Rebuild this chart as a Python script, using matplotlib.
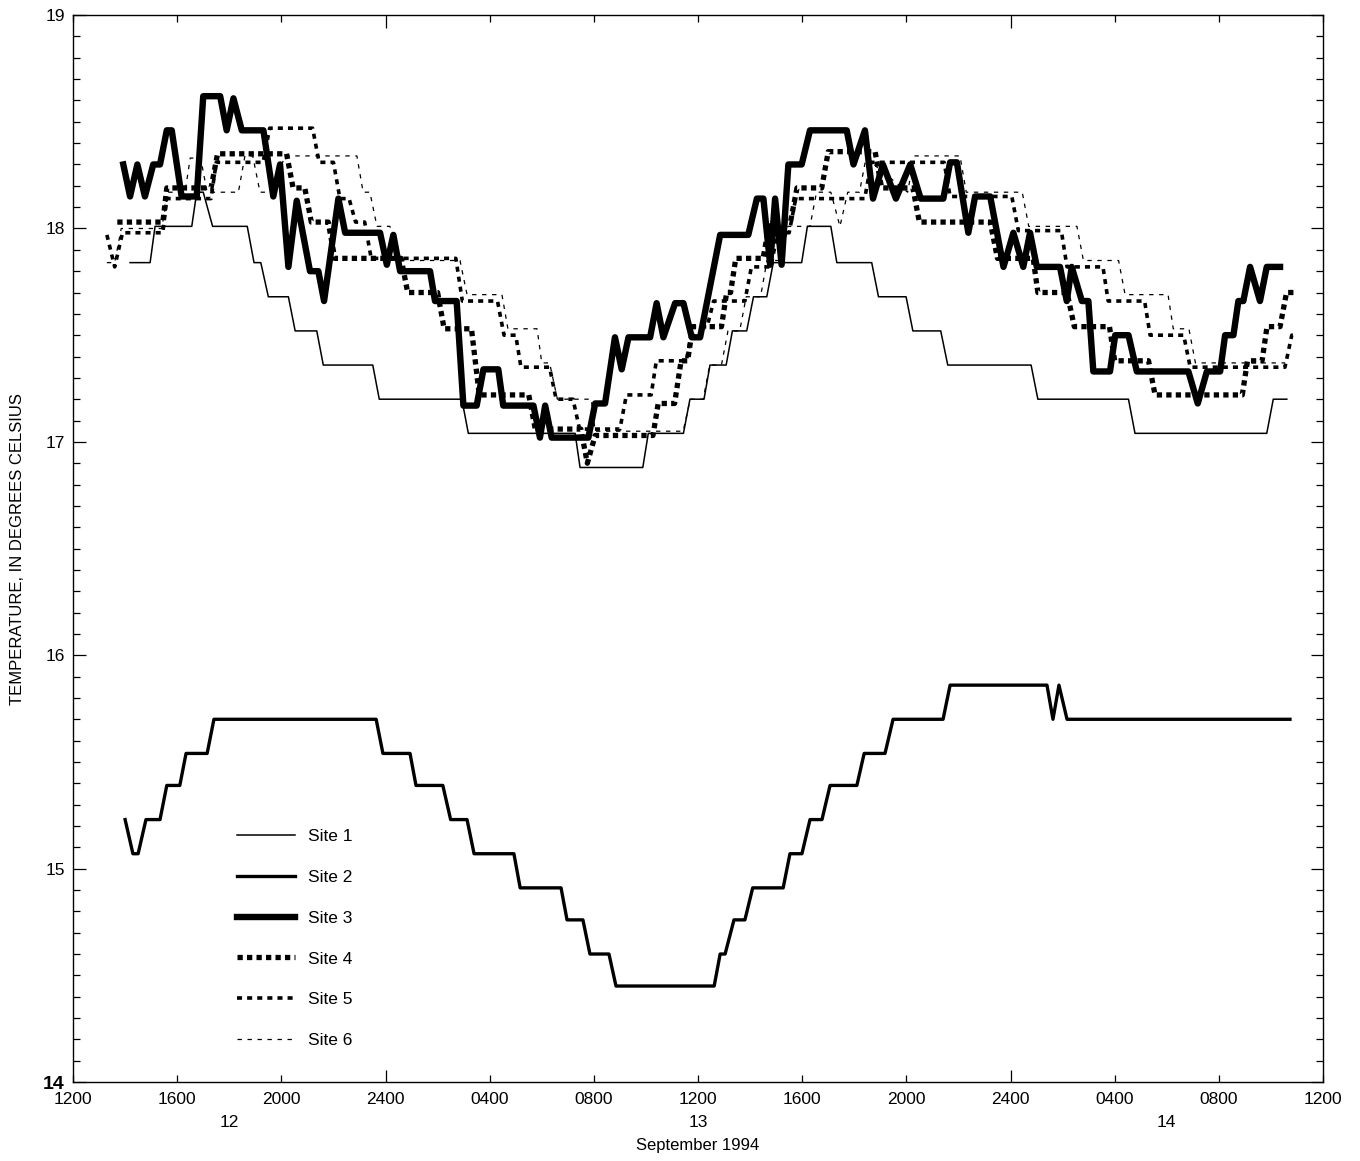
import matplotlib
matplotlib.use("Agg")
import matplotlib.pyplot as plt

plt.rcParams['font.family'] = ['Liberation Sans', 'DejaVu Sans']

# hours after 1200, 12 September 1994
site1_t = [2.19, 2.96, 3.15, 4.56, 4.75, 5.0, 5.36, 6.69, 6.95, 7.21, 7.5, 8.27, 8.53, 9.36, 9.61, 11.51,
           11.76, 14.93, 15.18, 19.28, 19.47, 21.88, 22.09, 23.44, 23.69, 24.23, 24.46, 25.08, 25.32, 25.87,
           26.13, 26.64, 26.89, 27.98, 28.2, 29.1, 29.33, 30.67, 30.93, 31.99, 32.25, 33.32, 33.59, 36.79,
           37.05, 40.53, 40.78, 45.84, 46.09, 46.61]
site1_v = [17.84, 17.84, 18.01, 18.01, 18.17, 18.17, 18.01, 18.01, 17.84, 17.84, 17.68, 17.68, 17.52, 17.52,
           17.36, 17.36, 17.20, 17.20, 17.04, 17.04, 16.88, 16.88, 17.04, 17.04, 17.20, 17.20, 17.36, 17.36,
           17.52, 17.52, 17.68, 17.68, 17.84, 17.84, 18.01, 18.01, 17.84, 17.84, 17.68, 17.68, 17.52, 17.52,
           17.36, 17.36, 17.20, 17.20, 17.04, 17.04, 17.20, 17.20]

site2_t = [2.0, 2.3, 2.5, 2.8, 3.34, 3.6, 4.1, 4.34, 5.15, 5.41, 11.64, 11.9, 12.94, 13.17, 14.2, 14.5,
           15.13, 15.4, 16.93, 17.17, 18.74, 18.97, 19.58, 19.85, 20.58, 20.85, 24.62, 24.85, 25.04, 25.38,
           25.8, 26.1, 27.27, 27.53, 27.99, 28.3, 28.76, 29.07, 30.1, 30.38, 31.18, 31.49, 33.41, 33.68,
           37.4, 37.63, 37.86, 38.17, 46.73]
site2_v = [15.23, 15.07, 15.07, 15.23, 15.23, 15.39, 15.39, 15.54, 15.54, 15.70, 15.70, 15.54, 15.54, 15.39,
           15.39, 15.23, 15.23, 15.07, 15.07, 14.91, 14.91, 14.76, 14.76, 14.60, 14.60, 14.45, 14.45, 14.60,
           14.60, 14.76, 14.76, 14.91, 14.91, 15.07, 15.07, 15.23, 15.23, 15.39, 15.39, 15.54, 15.54, 15.70,
           15.70, 15.86, 15.86, 15.70, 15.86, 15.70, 15.70]

site3_t = [1.93, 2.19, 2.47, 2.76, 3.08, 3.34, 3.6, 3.79, 4.17, 4.75, 5.0, 5.65, 5.9, 6.16, 6.48, 7.31,
           7.69, 7.95, 8.27, 8.59, 9.1, 9.42, 9.64, 10.19, 10.45, 11.79, 12.05, 12.3, 12.56, 13.71, 13.9,
           14.73, 14.99, 15.5, 15.76, 16.33, 16.52, 17.68, 17.93, 18.13, 18.38, 19.79, 20.05, 20.43, 20.81,
           21.07, 21.33, 22.16, 22.41, 22.67, 23.12, 23.44, 23.76, 24.08, 24.85, 25.93, 26.26, 26.51, 26.77,
           26.96, 27.21, 27.47, 27.98, 28.3, 29.71, 29.97, 30.41, 30.72, 31.1, 31.6, 32.15, 32.55, 33.42,
           33.68, 33.94, 34.38, 34.64, 35.22, 35.73, 36.11, 36.49, 36.75, 37.01, 37.9, 38.16, 38.35, 38.74,
           38.99, 39.18, 39.82, 40.02, 40.53, 40.85, 42.83, 43.19, 43.54, 44.05, 44.24, 44.56, 44.75, 44.94,
           45.2, 45.58, 45.84, 46.35]
site3_v = [18.30, 18.15, 18.30, 18.15, 18.30, 18.30, 18.46, 18.46, 18.15, 18.15, 18.62, 18.62, 18.46, 18.61,
           18.46, 18.46, 18.15, 18.30, 17.82, 18.13, 17.80, 17.80, 17.66, 18.14, 17.98, 17.98, 17.83, 17.97,
           17.80, 17.80, 17.66, 17.66, 17.17, 17.17, 17.34, 17.34, 17.17, 17.17, 17.02, 17.17, 17.02, 17.02,
           17.18, 17.18, 17.49, 17.34, 17.49, 17.49, 17.65, 17.49, 17.65, 17.65, 17.49, 17.49, 17.97, 17.97,
           18.14, 18.14, 17.83, 18.14, 17.83, 18.30, 18.30, 18.46, 18.46, 18.30, 18.46, 18.14, 18.30, 18.14,
           18.30, 18.14, 18.14, 18.31, 18.31, 17.98, 18.15, 18.15, 17.82, 17.98, 17.82, 17.98, 17.82, 17.82,
           17.66, 17.82, 17.66, 17.66, 17.33, 17.33, 17.50, 17.50, 17.33, 17.33, 17.18, 17.33, 17.33, 17.50,
           17.50, 17.66, 17.66, 17.82, 17.66, 17.82, 17.82]

site4_t = [1.7, 3.45, 3.6, 5.3, 5.55, 8.2, 8.45, 8.9, 9.15, 9.8, 10.05, 12.6, 12.85, 14.0, 14.25, 15.3,
           15.6, 17.5, 17.75, 19.5, 19.75, 20.05, 22.27, 22.47, 23.1, 23.35, 23.6, 23.8, 24.9, 25.1, 25.25,
           25.45, 26.5, 26.75, 27.55, 27.8, 28.75, 29.0, 30.8, 31.05, 32.25, 32.5, 35.22, 35.5, 36.87,
           37.05, 38.17, 38.45, 39.8, 40.0, 41.3, 41.55, 44.9, 45.1, 45.66, 45.85, 46.35, 46.6, 46.93]
site4_v = [18.03, 18.03, 18.19, 18.19, 18.35, 18.35, 18.19, 18.19, 18.03, 18.03, 17.86, 17.86, 17.70, 17.70,
           17.53, 17.53, 17.22, 17.22, 17.06, 17.06, 16.90, 17.03, 17.03, 17.18, 17.18, 17.38, 17.38, 17.54,
           17.54, 17.70, 17.70, 17.86, 17.86, 18.03, 18.03, 18.19, 18.19, 18.36, 18.36, 18.19, 18.19, 18.03,
           18.03, 17.86, 17.86, 17.70, 17.70, 17.54, 17.54, 17.38, 17.38, 17.22, 17.22, 17.38, 17.38, 17.54,
           17.54, 17.70, 17.70]

site5_t = [1.3, 1.6, 1.9, 3.45, 3.6, 5.3, 5.5, 7.3, 7.55, 9.2, 9.45, 10.0, 10.25, 10.6, 10.85, 11.2,
           11.45, 14.7, 14.95, 16.3, 16.55, 17.0, 17.2, 18.3, 18.55, 19.2, 19.45, 21.0, 21.25, 22.2, 22.4,
           23.55, 23.8, 24.35, 24.6, 25.8, 26.05, 26.8, 27.05, 27.5, 27.75, 30.4, 30.65, 33.45, 33.68,
           36.05, 36.3, 37.95, 38.17, 39.55, 39.75, 41.15, 41.36, 42.65, 42.9, 46.54, 46.8, 47.0]
site5_v = [17.97, 17.82, 17.98, 17.98, 18.14, 18.14, 18.31, 18.31, 18.47, 18.47, 18.31, 18.31, 18.14, 18.14,
           18.03, 18.03, 17.86, 17.86, 17.66, 17.66, 17.50, 17.50, 17.35, 17.35, 17.20, 17.20, 17.06, 17.06,
           17.22, 17.22, 17.38, 17.38, 17.54, 17.54, 17.66, 17.66, 17.82, 17.82, 17.98, 17.98, 18.14, 18.14,
           18.31, 18.31, 18.15, 18.15, 17.99, 17.99, 17.82, 17.82, 17.66, 17.66, 17.50, 17.50, 17.35, 17.35,
           17.50, 17.50]

site6_t = [1.3, 1.6, 1.85, 3.4, 3.65, 4.3, 4.5, 4.9, 5.15, 6.35, 6.6, 6.9, 7.18, 7.63, 8.14, 10.9, 11.14,
           11.4, 11.67, 12.17, 12.48, 14.86, 15.13, 16.47, 16.7, 17.82, 18.0, 18.3, 18.6, 19.9, 20.05, 23.43,
           23.7, 24.2, 24.45, 24.9, 25.15, 25.6, 25.85, 26.4, 26.65, 27.2, 27.45, 28.3, 28.55, 29.1, 29.45,
           29.75, 30.2, 30.45, 32.05, 32.3, 34.06, 34.3, 36.45, 36.7, 38.55, 38.8, 40.15, 40.4, 42.05, 42.25,
           42.85, 43.1, 46.55]
site6_v = [17.84, 17.84, 18.00, 18.00, 18.17, 18.17, 18.33, 18.33, 18.17, 18.17, 18.34, 18.34, 18.17, 18.17,
           18.34, 18.34, 18.17, 18.17, 18.01, 18.01, 17.85, 17.85, 17.69, 17.69, 17.53, 17.53, 17.37, 17.37,
           17.20, 17.20, 17.05, 17.05, 17.20, 17.20, 17.36, 17.36, 17.52, 17.52, 17.68, 17.68, 17.85, 17.85,
           18.01, 18.01, 18.17, 18.17, 18.01, 18.17, 18.17, 18.33, 18.17, 18.34, 18.34, 18.17, 18.17, 18.01,
           18.01, 17.85, 17.85, 17.69, 17.69, 17.53, 17.53, 17.37, 17.37]

tick_hours = list(range(0, 49, 4))
tick_labels = ['1200', '1600', '2000', '2400', '0400', '0800', '1200',
               '1600', '2000', '2400', '0400', '0800', '1200']
day_hours = [6, 24, 42]
day_labels = ['12', '13', '14']

fig = plt.figure(figsize=(13.6, 11.61), dpi=100)
ax = fig.add_axes([0.0537, 0.068, 0.9191, 0.919])

ax.plot(site1_t, site1_v, color='black', lw=1.1, label='Site 1')
ax.plot(site2_t, site2_v, color='black', lw=2.4, label='Site 2')
ax.plot(site3_t, site3_v, color='black', lw=4.6, label='Site 3')
ax.plot(site4_t, site4_v, color='black', lw=3.8, linestyle=(0, (1.0, 0.8)), label='Site 4')
ax.plot(site5_t, site5_v, color='black', lw=2.6, linestyle=(0, (1.4, 1.4)), label='Site 5')
ax.plot(site6_t, site6_v, color='black', lw=0.9, linestyle=(0, (3.5, 4.5)), label='Site 6')

ax.set_xlim(0, 48)
ax.set_ylim(14, 19)
ax.set_xticks(tick_hours)
ax.set_xticklabels(tick_labels)
ax.set_yticks([14, 15, 16, 17, 18, 19])
ax.set_yticks([14 + i * 0.1 for i in range(51) if i % 10], minor=True)
ax.tick_params(which='both', direction='in', top=True, right=True, labelsize=12.5, width=0.9)
ax.tick_params(which='major', length=9)
ax.tick_params(which='minor', length=5)
ax.tick_params(axis='x', which='major', length=5, pad=7)
ax.tick_params(axis='y', pad=6)
for i, t in enumerate(ax.xaxis.get_major_ticks()):
    if tick_hours[i] in (12, 36):
        t.tick1line.set_markersize(9)
        t.tick2line.set_markersize(9)
ax.get_yticklabels()[0].set_fontweight('bold')
ax.get_yticklabels()[0].set_fontsize(14)
for s in ax.spines.values():
    s.set_linewidth(1.0)

ax.set_ylabel('TEMPERATURE, IN DEGREES CELSIUS', fontsize=12, labelpad=13)
for h, lab in zip(day_hours, day_labels):
    ax.text(h, -0.0375, lab, transform=ax.get_xaxis_transform(), ha='center', va='center', fontsize=12.5)
ax.text(24, -0.059, 'September 1994', transform=ax.get_xaxis_transform(), ha='center', va='center',
        fontsize=12)

ax.legend(loc='upper left', bbox_to_anchor=(0.1245, 0.245), frameon=False, fontsize=12.5,
          handlelength=3.3, handletextpad=0.75, labelspacing=1.47, borderpad=0)

fig.savefig('out.png', dpi=100)
